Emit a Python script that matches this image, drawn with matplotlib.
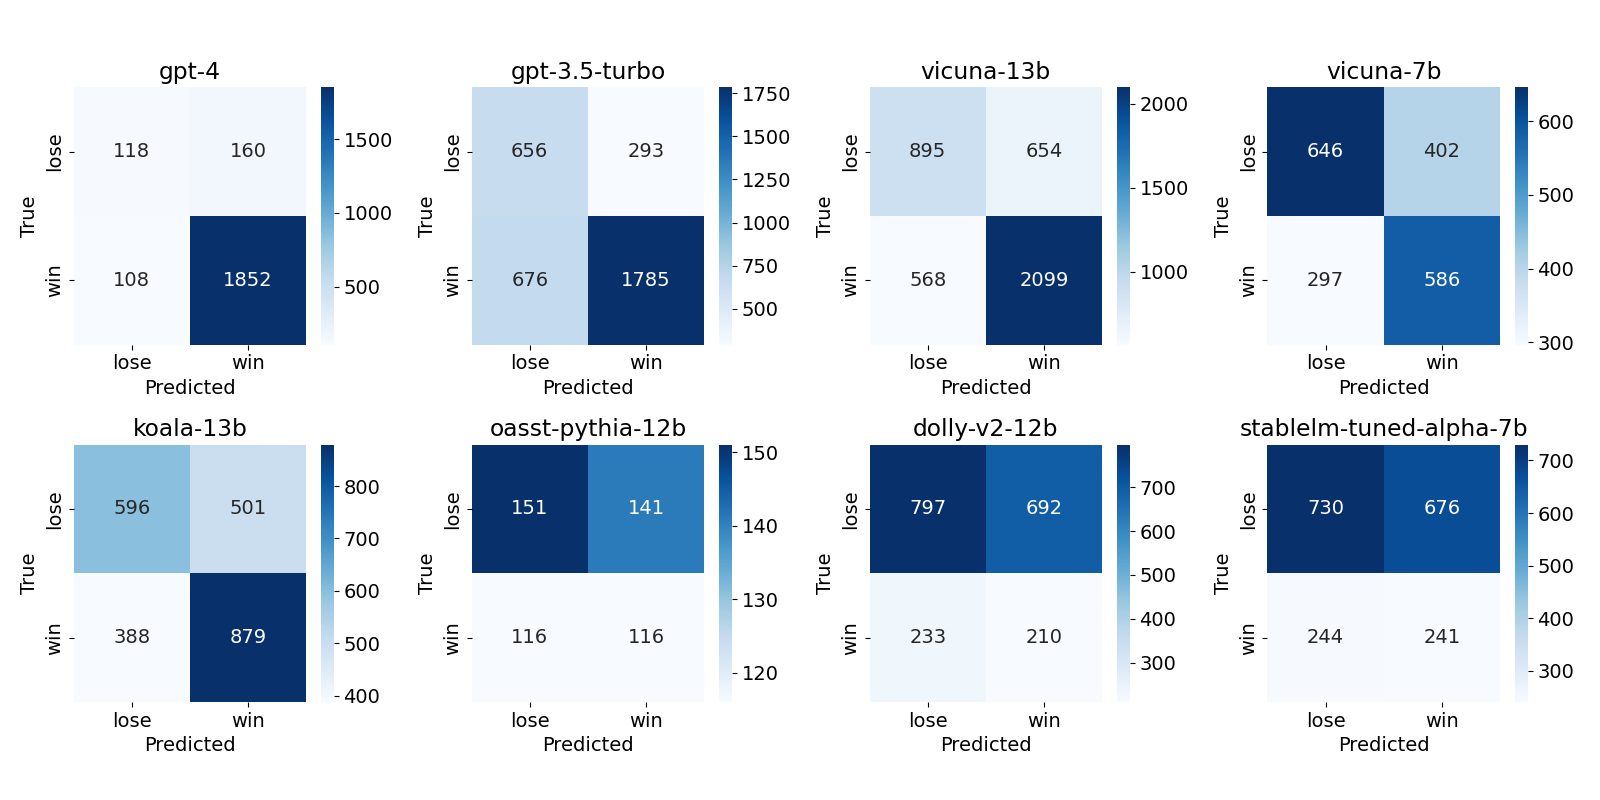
import matplotlib
matplotlib.use("Agg")
import matplotlib.pyplot as plt
import numpy as np
import seaborn as sns

# model names and their confusion matrices (rows: true lose/win, cols: predicted lose/win)
models = ["gpt-4", "gpt-3.5-turbo", "vicuna-13b", "vicuna-7b",
          "koala-13b", "oasst-pythia-12b", "dolly-v2-12b", "stablelm-tuned-alpha-7b"]
gpt4 = [[118, 160], [108, 1852]]
gpt35 = [[656, 293], [676, 1785]]
vicuna13 = [[895, 654], [568, 2099]]
vicuna7 = [[646, 402], [297, 586]]
koala13 = [[596, 501], [388, 879]]
oasst12 = [[151, 141], [116, 116]]
dolly12 = [[797, 692], [233, 210]]
stablelm7 = [[730, 676], [244, 241]]
labels = ["lose", "win"]

matrices = [gpt4, gpt35, vicuna13, vicuna7, koala13, oasst12, dolly12, stablelm7]

plt.rcParams['font.size'] = 14

fig, axes = plt.subplots(2, 4, figsize=(16, 8), dpi=100)
plt.subplots_adjust(left=0.046, right=0.974, top=0.891, bottom=0.1225,
                    wspace=0.368, hspace=0.389)

for ax, name, cm in zip(axes.flat, models, matrices):
    sns.heatmap(np.array(cm), annot=True, fmt="d", cmap="Blues", ax=ax,
                xticklabels=labels, yticklabels=labels)
    ax.set_title(name)
    ax.set_xlabel("Predicted")
    ax.set_ylabel("True")

plt.savefig("out.png")
